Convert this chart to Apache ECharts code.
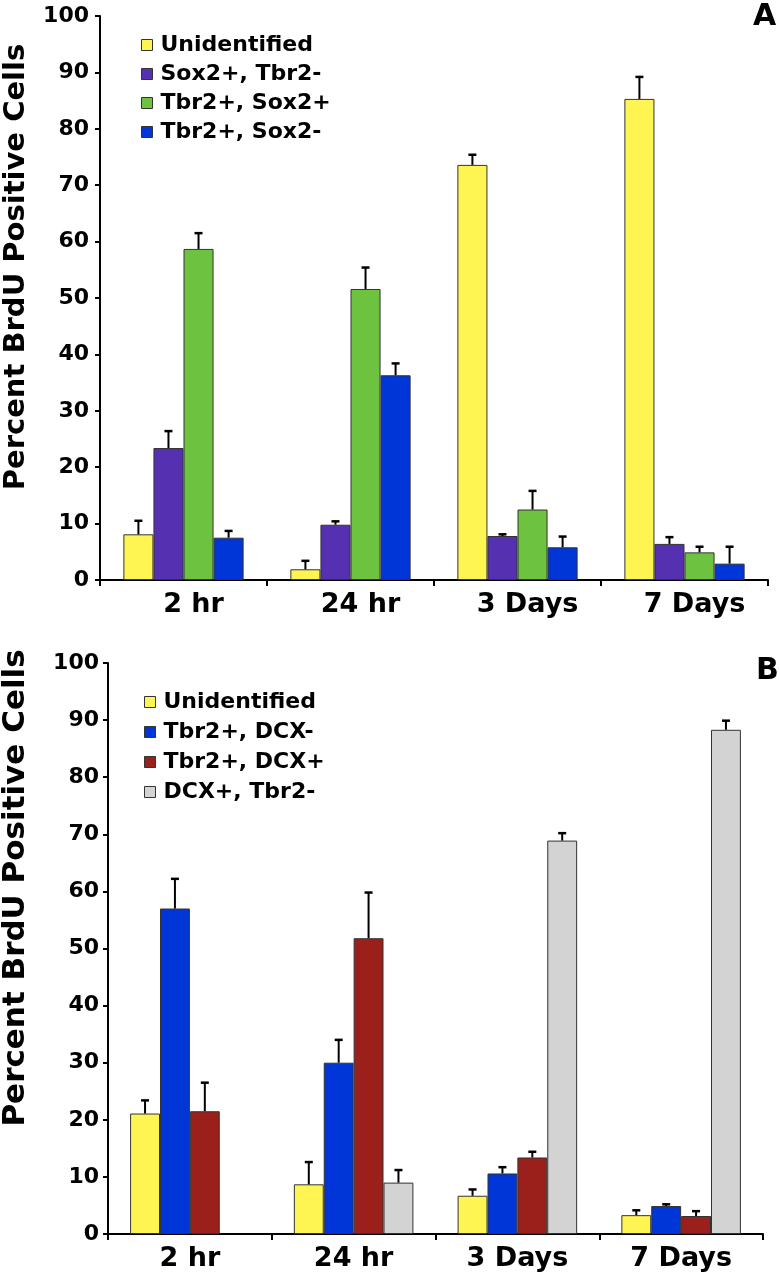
<!DOCTYPE html>
<html>
<head>
<meta charset="utf-8">
<script src="https://cdn.jsdelivr.net/npm/echarts@6/dist/echarts.min.js"></script>
<style>
  html, body { margin: 0; background: #fff; }
  #chart { width: 780px; height: 1280px; }
</style>
</head>
<body>
<div id="chart"></div>
<script>
  const categories = ['2 hr', '24 hr', '3 Days', '7 Days'];

  // panel A: means and upward error (SEM)
  const namesA = ['Unidentified', 'Sox2+, Tbr2-', 'Tbr2+, Sox2+', 'Tbr2+, Sox2-'];
  const unidentifiedA = [8.1, 1.9, 73.6, 85.3];
  const sox2PosTbr2Neg = [23.4, 9.8, 7.8, 6.4];
  const tbr2PosSox2Pos = [58.7, 51.6, 12.5, 4.9];
  const tbr2PosSox2Neg = [7.5, 36.3, 5.8, 2.9];
  const errUnidentifiedA = [2.4, 1.5, 1.8, 3.9];
  const errSox2PosTbr2Neg = [3.0, 0.6, 0.3, 1.2];
  const errTbr2PosSox2Pos = [2.8, 3.8, 3.3, 1.0];
  const errTbr2PosSox2Neg = [1.2, 2.1, 1.9, 3.0];

  // panel B
  const namesB = ['Unidentified', 'Tbr2+, DCX-', 'Tbr2+, DCX+', 'DCX+, Tbr2-'];
  const unidentifiedB = [21.1, 8.7, 6.7, 3.3];
  const tbr2PosDcxNeg = [57.0, 30.0, 10.6, 4.9];
  const tbr2PosDcxPos = [21.5, 51.8, 13.4, 3.15];
  const dcxPosTbr2Neg = [null, 9.0, 68.9, 88.3];
  const errUnidentifiedB = [2.3, 3.9, 1.1, 0.85];
  const errTbr2PosDcxNeg = [5.2, 4.0, 1.1, 0.3];
  const errTbr2PosDcxPos = [5.0, 8.0, 1.0, 0.85];
  const errDcxPosTbr2Neg = [null, 2.2, 1.3, 1.6];

  const colorsA = ['#fff552', '#5530b0', '#6dc23f', '#0035d8'];
  const colorsB = ['#fff552', '#0035d8', '#9b1f1a', '#d3d3d3'];
  const gaps = [0.28, 0.27];
  const font = 'DejaVu Sans';

  function barSeries(name, data, color, g) {
    return {
      name: name,
      type: 'bar',
      xAxisIndex: g,
      yAxisIndex: g,
      data: data,
      barGap: 0,
      barCategoryGap: (gaps[g] * 100) + '%',
      itemStyle: { color: color, borderColor: '#333', borderWidth: 1 },
      emphasis: { disabled: true }
    };
  }

  function errorSeries(vals, errs, k, g) {
    const data = [];
    vals.forEach((v, i) => {
      if (v != null && errs[i] != null) data.push([i, v, errs[i]]);
    });
    return {
      type: 'custom',
      xAxisIndex: g,
      yAxisIndex: g,
      z: 3,
      silent: true,
      data: data,
      renderItem: function (params, api) {
        const base = api.coord([api.value(0), api.value(1)]);
        const top = api.coord([api.value(0), api.value(1) + api.value(2)]);
        const band = api.size([1, 0])[0];
        const bw = band * (1 - gaps[g]) / 4;
        const x = base[0] + (k - 1.5) * bw;
        return {
          type: 'group',
          children: [
            { type: 'line', shape: { x1: x, y1: base[1], x2: x, y2: top[1] }, style: { stroke: '#000', lineWidth: 2 } },
            { type: 'line', shape: { x1: x - 4, y1: top[1], x2: x + 4, y2: top[1] }, style: { stroke: '#000', lineWidth: 2.5 } }
          ]
        };
      }
    };
  }

  function xAxis(g, pad) {
    return {
      type: 'category',
      gridIndex: g,
      data: categories,
      axisLine: { lineStyle: { color: '#000', width: 2 } },
      axisTick: { show: true, length: 6, lineStyle: { color: '#000', width: 2 } },
      axisLabel: { color: '#000', fontFamily: font, fontWeight: 'bold', fontSize: 27, margin: 11, padding: pad }
    };
  }

  function yAxis(g, margin) {
    return {
      type: 'value',
      gridIndex: g,
      min: 0,
      max: 100,
      interval: 10,
      splitLine: { show: false },
      axisLine: { show: true, lineStyle: { color: '#000', width: 2 } },
      axisTick: { show: true, length: 5, lineStyle: { color: '#000', width: 2 } },
      axisLabel: { color: '#000', fontFamily: font, fontWeight: 'bold', fontSize: 22, margin: margin }
    };
  }

  const legendText = { color: '#000', fontFamily: font, fontWeight: 'bold', fontSize: 22, padding: [0, 0, 0, 3] };

  const chart = echarts.init(document.getElementById('chart'));
  chart.setOption({
    animation: false,
    backgroundColor: '#fff',
    grid: [
      { left: 100, right: 12, top: 16, height: 564 },
      { left: 108, right: 17, top: 663, height: 571 }
    ],
    xAxis: [xAxis(0, [0, 0, 0, 20]), xAxis(1, 0)],
    yAxis: [yAxis(0, 11), yAxis(1, 9)],
    legend: [
      {
        data: namesA.map((n, i) => ({ name: n, itemStyle: { color: colorsA[i], borderColor: '#333', borderWidth: 1 } })),
        orient: 'vertical', left: 136, top: 29, itemWidth: 11, itemHeight: 11, itemGap: 7,
        icon: 'rect', textStyle: legendText, selectedMode: false
      },
      {
        data: namesB.map((n, i) => ({ name: n, itemStyle: { color: colorsB[i], borderColor: '#333', borderWidth: 1 } })),
        orient: 'vertical', left: 139, top: 686, itemWidth: 11, itemHeight: 11, itemGap: 8,
        icon: 'rect', textStyle: legendText, selectedMode: false
      }
    ],
    graphic: [
      { type: 'text', left: 753, top: 2, style: { text: 'A', font: 'bold 30px "DejaVu Sans"', fill: '#000' } },
      { type: 'text', left: 756, top: 656, style: { text: 'B', font: 'bold 30px "DejaVu Sans"', fill: '#000' } },
      { type: 'text', x: 16, y: 267, rotation: Math.PI / 2, style: { text: 'Percent BrdU Positive Cells', font: 'bold 29px "DejaVu Sans"', fill: '#000', align: 'center', verticalAlign: 'middle' } },
      { type: 'text', x: 16, y: 888, rotation: Math.PI / 2, style: { text: 'Percent BrdU Positive Cells', font: 'bold 31px "DejaVu Sans"', fill: '#000', align: 'center', verticalAlign: 'middle' } }
    ],
    series: [
      barSeries(namesA[0], unidentifiedA, colorsA[0], 0),
      barSeries(namesA[1], sox2PosTbr2Neg, colorsA[1], 0),
      barSeries(namesA[2], tbr2PosSox2Pos, colorsA[2], 0),
      barSeries(namesA[3], tbr2PosSox2Neg, colorsA[3], 0),
      errorSeries(unidentifiedA, errUnidentifiedA, 0, 0),
      errorSeries(sox2PosTbr2Neg, errSox2PosTbr2Neg, 1, 0),
      errorSeries(tbr2PosSox2Pos, errTbr2PosSox2Pos, 2, 0),
      errorSeries(tbr2PosSox2Neg, errTbr2PosSox2Neg, 3, 0),
      barSeries(namesB[0], unidentifiedB, colorsB[0], 1),
      barSeries(namesB[1], tbr2PosDcxNeg, colorsB[1], 1),
      barSeries(namesB[2], tbr2PosDcxPos, colorsB[2], 1),
      barSeries(namesB[3], dcxPosTbr2Neg, colorsB[3], 1),
      errorSeries(unidentifiedB, errUnidentifiedB, 0, 1),
      errorSeries(tbr2PosDcxNeg, errTbr2PosDcxNeg, 1, 1),
      errorSeries(tbr2PosDcxPos, errTbr2PosDcxPos, 2, 1),
      errorSeries(dcxPosTbr2Neg, errDcxPosTbr2Neg, 3, 1)
    ]
  });
</script>
</body>
</html>
